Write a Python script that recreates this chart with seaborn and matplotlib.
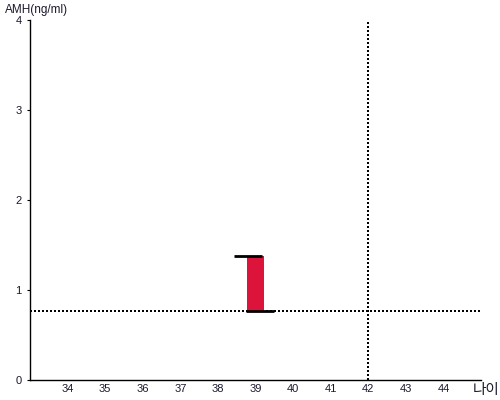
import matplotlib
matplotlib.use("Agg")
import matplotlib.pyplot as plt
import seaborn as sns
import pandas as pd

# data
age_ticks = [34, 35, 36, 37, 38, 39, 40, 41, 42, 43, 44]
y_ticks = [0, 1, 2, 3, 4]
bar_age = [39]
bar_low = [0.77]
bar_high = [1.38]
ref_amh = 0.77
ref_age = 42
x_label = "나이"
y_label = "AMH(ng/ml)"

sns.set_theme(style="white")
plt.rcParams['font.family'] = ['Liberation Sans', 'Noto Sans CJK KR', 'DejaVu Sans']

fig = plt.figure(figsize=(5, 4), dpi=100)
ax = fig.add_axes([0.06, 0.05, 0.902, 0.90])

df = pd.DataFrame({"age": bar_age,
                   "height": [h - l for h, l in zip(bar_high, bar_low)],
                   "low": bar_low})
sns.barplot(data=df, x="age", y="height", native_scale=True, width=0.43,
            color="#DC143C", saturation=1, bottom=df["low"].tolist(), ax=ax,
            linewidth=0, zorder=2)

# caps
for a, lo, hi in zip(bar_age, bar_low, bar_high):
    ax.hlines(hi, a - 0.57, a + 0.17, color="black", lw=2, zorder=3)
    ax.hlines(lo, a - 0.25, a + 0.5, color="black", lw=2, zorder=3)

dots = (0, (1, 1))
ax.axhline(ref_amh, color="black", lw=1.44, linestyle=dots, zorder=1)
ax.axvline(ref_age, color="black", lw=1.44, linestyle=dots, zorder=1)

ax.set_xlim(33, 45)
ax.set_ylim(0, 4)
ax.set_xticks(age_ticks)
ax.set_xticklabels([str(a) for a in age_ticks])
ax.set_yticks(y_ticks)
ax.set_yticklabels([str(v) for v in y_ticks])
ax.tick_params(axis="both", labelsize=8, labelcolor="#1a1a2e")
ax.tick_params(axis="x", length=0, pad=3)
ax.tick_params(axis="y", left=True, length=2, width=0.8, color="black", pad=4, direction="out")
ax.set_xlabel("")
ax.set_ylabel("")
for s in ["top", "right"]:
    ax.spines[s].set_visible(False)
for s in ["left", "bottom"]:
    ax.spines[s].set_color("black")
    ax.spines[s].set_linewidth(1)

fig.text(0.01, 0.975, y_label, fontsize=8.5, ha="left", va="center", color="#1a1a2e")
fig.text(0.946, 0.025, x_label, fontsize=10.5, ha="left", va="center", color="#1a1a2e",
         family=['Noto Sans CJK KR', 'DejaVu Sans'])

fig.savefig("out.png", dpi=100)
